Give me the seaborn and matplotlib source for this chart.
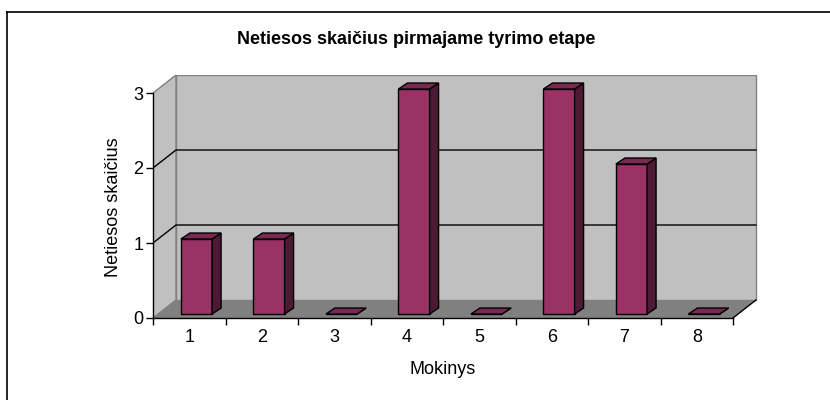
import pandas as pd
import seaborn as sns
import matplotlib.pyplot as plt
from matplotlib.patches import Polygon, Rectangle
from matplotlib.lines import Line2D

# data
students = ['1', '2', '3', '4', '5', '6', '7', '8']
errors = [1, 1, 0, 3, 0, 3, 2, 0]
yticks = [0, 1, 2, 3]

title = 'Netiesos skaičius pirmajame tyrimo etape'
ylabel = 'Netiesos skaičius'
xlabel = 'Mokinys'

df = pd.DataFrame({'Mokinys': students, 'Netiesos': errors})

plt.rcParams['font.family'] = ['Liberation Sans', 'DejaVu Sans']

# fake 3d depth, in data units
DX, DY = 0.317, 0.24
BX, BY = 0.124, 0.08       # depth of each bar
SHIFT_X, SHIFT_Y = 0.1, 0.053
FS = 13

fig = plt.figure(figsize=(8.3, 4), dpi=100)
ax = fig.add_axes([153 / 830, 82 / 400, 605 / 830, 243 / 400])

sns.barplot(data=df, x='Mokinys', y='Netiesos', color='#993366', saturation=1,
            width=0.43, edgecolor='black', linewidth=1, zorder=5, ax=ax)

n = len(students)
top = max(yticks)

# walls and floor
ax.add_patch(Rectangle((-0.5 + DX, DY), n, top, facecolor='#c0c0c0',
                       edgecolor='#808080', lw=1, zorder=0.5))
ax.add_patch(Polygon([(-0.5, 0), (-0.5, top), (-0.5 + DX, top + DY), (-0.5 + DX, DY)],
                     closed=True, facecolor='#c0c0c0', edgecolor='#808080', lw=1, zorder=0.5))
ax.add_patch(Polygon([(-0.5, 0), (n - 0.5, 0), (n - 0.5 + DX, DY), (-0.5 + DX, DY)],
                     closed=True, facecolor='#808080', edgecolor='none', zorder=0.6))
ax.plot([n - 0.5, n - 0.5 + DX], [0, DY], color='black', lw=1, zorder=1, clip_on=False)
for k in yticks[1:-1]:
    ax.plot([-0.5, -0.5 + DX, n - 0.5 + DX], [k, k + DY, k + DY],
            color='black', lw=1, zorder=1)

# push bars back a little and add side/top faces
for p in ax.containers[0].patches:
    p.set_x(p.get_x() + SHIFT_X)
    p.set_y(SHIFT_Y)
    x0, y0 = p.get_x(), p.get_y()
    x1, y1 = x0 + p.get_width(), y0 + p.get_height()
    ax.add_patch(Polygon([(x1, y0), (x1 + BX, y0 + BY), (x1 + BX, y1 + BY), (x1, y1)],
                         closed=True, facecolor='#4d1a33', edgecolor='black', lw=1, zorder=5))
    ax.add_patch(Polygon([(x0, y1), (x1, y1), (x1 + BX, y1 + BY), (x0 + BX, y1 + BY)],
                         closed=True, facecolor='#7a2952', edgecolor='black', lw=1, zorder=5))

ax.set_xlim(-0.5, -0.5 + 605 / 72.5)
ax.set_ylim(0, 243 / 75)

for s in ['top', 'right']:
    ax.spines[s].set_visible(False)
ax.spines['left'].set_bounds(0, top)
ax.spines['bottom'].set_bounds(-0.5, n - 0.5)
for s in ['left', 'bottom']:
    ax.spines[s].set_color('black')
    ax.spines[s].set_linewidth(1)
    ax.spines[s].set_zorder(6)

ax.set_yticks(yticks)
ax.set_xticks(range(n))
ax.set_xticklabels(students)
ax.set_xticks([i - 0.5 for i in range(n + 1)], minor=True)
ax.tick_params(axis='y', left=True, direction='out', length=5, width=1,
               color='black', labelsize=FS, pad=2)
ax.tick_params(axis='x', which='major', bottom=True, length=0, labelsize=FS, pad=8)
ax.tick_params(axis='x', which='minor', bottom=True, direction='out', length=5,
               width=1, color='black')
ax.set_xlabel('')
ax.set_ylabel('')
ax.set_facecolor('none')

fig.text(416 / 830, 1 - 40 / 400, title, ha='center', va='center',
         fontsize=FS, fontweight='bold')
fig.text(113 / 830, 1 - 207 / 400, ylabel, ha='center', va='center',
         rotation=90, fontsize=FS)
fig.text(443 / 830, 1 - 370 / 400, xlabel, ha='center', va='center', fontsize=FS)

# outer frame (only top and left edges show)
fig.add_artist(Line2D([7 / 830, 1], [1 - 12 / 400] * 2, color='black', lw=1.2))
fig.add_artist(Line2D([7 / 830] * 2, [0, 1 - 12 / 400], color='black', lw=1.2))

fig.savefig('out.png', dpi=100)
